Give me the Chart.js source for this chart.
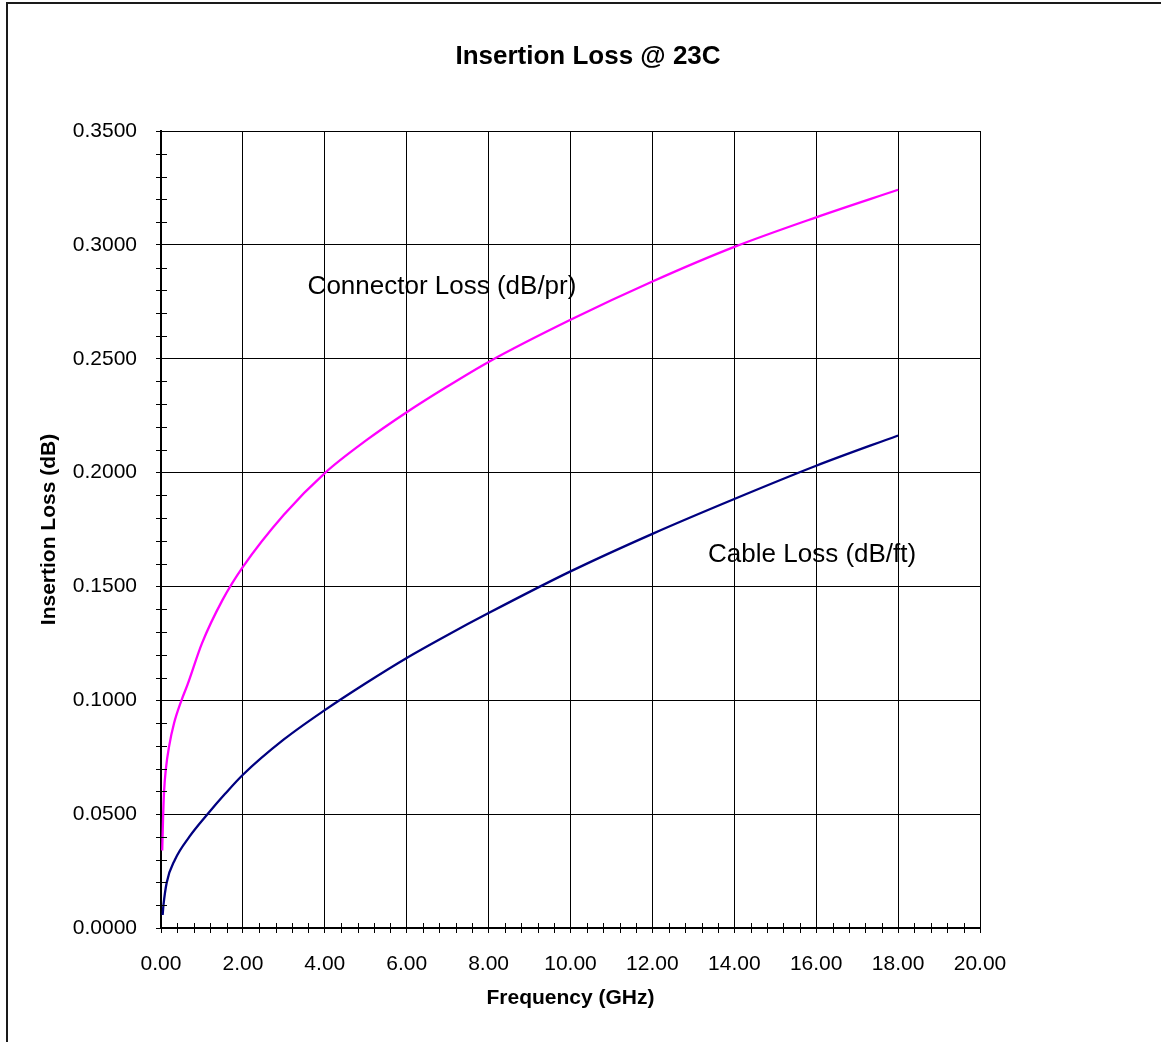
<!DOCTYPE html>
<html>
<head>
<meta charset="utf-8">
<script src="https://cdn.jsdelivr.net/npm/chart.js@4"></script>
<style>
  html, body { margin: 0; padding: 0; background: #fff; }
  #wrap { width: 1161px; height: 1042px; position: relative; }
</style>
</head>
<body>
<div id="wrap"><canvas id="c" width="1161" height="1042"></canvas></div>
<script>
// ---- Data ----
const connectorFreq = [0.03, 0.05, 0.075, 0.12, 0.2, 0.32, 0.5, 0.65, 1.0, 1.5, 2, 3, 4, 5, 6, 7, 8, 10, 12, 14, 16, 18];
const connectorLoss = [0.034, 0.048, 0.060, 0.070, 0.080, 0.090, 0.100, 0.107, 0.125, 0.144, 0.1586, 0.1815, 0.1998, 0.2140, 0.2265, 0.2379, 0.2486, 0.2671, 0.2839, 0.2991, 0.3121, 0.3242];

const cableFreq = [0.04, 0.06, 0.14, 0.34, 0.69, 1.16, 1.56, 2, 3, 4, 5, 6, 7, 8, 10, 12, 14, 16, 18];
const cableLoss = [0.0057, 0.010, 0.020, 0.030, 0.040, 0.0505, 0.0588, 0.0673, 0.0828, 0.0957, 0.1075, 0.1186, 0.1287, 0.1383, 0.1566, 0.1731, 0.1884, 0.2030, 0.2163];

const seriesNames = ['Connector Loss (dB/pr)', 'Cable Loss (dB/ft)'];
// in-plot text labels, positioned in data units
const noteText = ['Connector Loss (dB/pr)', 'Cable Loss (dB/ft)'];
const noteX = [3.58, 13.36];
const noteY = [0.2785, 0.1606];

const chartTitle = 'Insertion Loss @ 23C';
const xTitle = 'Frequency (GHz)';
const yTitle = 'Insertion Loss (dB)';
const xMin = 0, xMax = 20, xStep = 2, xMinorStep = 0.4;
const yMin = 0, yMax = 0.35, yStep = 0.05, yMinorStep = 0.01;

function pts(xs, ys) { return xs.map((x, i) => ({ x: x, y: ys[i] })); }

const FONT = "'Liberation Sans', Arial, sans-serif";

const bgAndFrame = {
  id: 'bgAndFrame',
  beforeDraw(chart) {
    const ctx = chart.ctx;
    ctx.save();
    ctx.fillStyle = '#fff';
    ctx.fillRect(0, 0, chart.width, chart.height);
    ctx.fillStyle = '#1a1a1a';
    ctx.fillRect(6, 2, 2, chart.height);
    ctx.fillRect(6, 2, chart.width, 2);
    ctx.restore();
  }
};

const minorTicks = {
  id: 'minorTicks',
  afterDraw(chart) {
    const ctx = chart.ctx;
    const xs = chart.scales.x, ys = chart.scales.y;
    const a = chart.chartArea;
    ctx.save();
    ctx.strokeStyle = '#000';
    ctx.lineWidth = 1;
    ctx.beginPath();
    const nY = Math.round((yMax - yMin) / yMinorStep);
    for (let i = 0; i <= nY; i++) {
      if (i % 5 === 0) continue;
      const py = Math.round(ys.getPixelForValue(yMin + i * yMinorStep)) + 0.5;
      ctx.moveTo(a.left - 5, py);
      ctx.lineTo(a.left + 6, py);
    }
    const nX = Math.round((xMax - xMin) / xMinorStep);
    for (let i = 0; i <= nX; i++) {
      if (i % 5 === 0) continue;
      const px = Math.round(xs.getPixelForValue(xMin + i * xMinorStep)) + 0.5;
      ctx.moveTo(px, a.bottom - 5);
      ctx.lineTo(px, a.bottom + 5);
    }
    ctx.stroke();
    // in-plot notes
    ctx.fillStyle = '#000';
    ctx.font = '26px ' + FONT;
    ctx.textAlign = 'left';
    ctx.textBaseline = 'alphabetic';
    noteText.forEach((t, i) => {
      ctx.fillText(t, xs.getPixelForValue(noteX[i]), ys.getPixelForValue(noteY[i]));
    });
    ctx.restore();
  }
};

new Chart(document.getElementById('c'), {
  type: 'scatter',
  data: {
    datasets: [
      {
        label: seriesNames[0],
        data: pts(connectorFreq, connectorLoss),
        showLine: true,
        borderColor: '#FF00FF',
        backgroundColor: '#FF00FF',
        borderWidth: 2.3,
        pointRadius: 0,
        cubicInterpolationMode: 'monotone'
      },
      {
        label: seriesNames[1],
        data: pts(cableFreq, cableLoss),
        showLine: true,
        borderColor: '#000080',
        backgroundColor: '#000080',
        borderWidth: 2.3,
        pointRadius: 0,
        cubicInterpolationMode: 'monotone'
      }
    ]
  },
  options: {
    responsive: false,
    animation: false,
    devicePixelRatio: 1,
    layout: { padding: { left: 15, right: 0, top: 0, bottom: 0 } },
    plugins: {
      legend: { display: false },
      tooltip: { enabled: false },
      title: {
        display: true,
        text: chartTitle,
        color: '#000',
        font: { family: FONT, size: 26, weight: 'bold' },
        padding: { top: 41, bottom: 58.8 }
      }
    },
    scales: {
      x: {
        type: 'linear',
        min: xMin, max: xMax,
        afterFit(s) { s.height = 114; },
        ticks: {
          stepSize: xStep,
          color: '#000',
          padding: 19,
          maxRotation: 0,
          font: { family: FONT, size: 21 },
          callback: v => Number(v).toFixed(2)
        },
        grid: { color: '#000', lineWidth: 1, drawTicks: true, tickLength: 5, tickColor: '#000' },
        border: { display: true, color: '#000', width: 2 },
        title: {
          display: true, text: xTitle, color: '#000',
          font: { family: FONT, size: 21, weight: 'bold' },
          padding: { top: 0, bottom: 31 }
        }
      },
      y: {
        type: 'linear',
        min: yMin, max: yMax,
        afterFit(s) { s.width = 146; },
        ticks: {
          stepSize: yStep,
          color: '#000',
          padding: 19,
          font: { family: FONT, size: 21 },
          callback: v => Number(v).toFixed(4)
        },
        grid: { color: '#000', lineWidth: 1, drawTicks: true, tickLength: 5, tickColor: '#000' },
        border: { display: true, color: '#000', width: 2 },
        title: {
          display: true, text: yTitle, color: '#000',
          font: { family: FONT, size: 21, weight: 'bold' },
          padding: { top: 22, bottom: 0 }
        }
      },
      yRight: {
        type: 'linear',
        position: 'right',
        display: true,
        afterFit(s) { s.width = 181; },
        ticks: { display: false },
        grid: { display: false, drawTicks: false },
        border: { display: false }
      }
    }
  },
  plugins: [bgAndFrame, minorTicks]
});
</script>
</body>
</html>
